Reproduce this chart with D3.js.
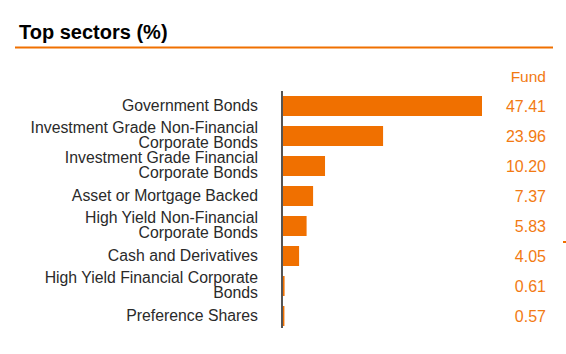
<!DOCTYPE html>
<html>
<head>
<meta charset="utf-8">
<script src="https://cdn.jsdelivr.net/npm/d3@7"></script>
<style>
  html, body { margin: 0; padding: 0; background: #fff; }
  svg { display: block; font-family: "Liberation Sans", Arial, sans-serif; }
</style>
</head>
<body>
<svg id="chart" width="566" height="354"></svg>
<script>
const title = "Top sectors (%)";
const seriesName = "Fund";
const categories = [
  "Government Bonds",
  "Investment Grade Non-Financial\nCorporate Bonds",
  "Investment Grade Financial\nCorporate Bonds",
  "Asset or Mortgage Backed",
  "High Yield Non-Financial\nCorporate Bonds",
  "Cash and Derivatives",
  "High Yield Financial Corporate\nBonds",
  "Preference Shares"
];
const values = [47.41, 23.96, 10.20, 7.37, 5.83, 4.05, 0.61, 0.57];

const orange = "#f07000";
const valueColor = "#f27a12";
const svg = d3.select("#chart");

// Title
svg.append("text")
  .attr("x", 19).attr("y", 39)
  .attr("font-size", 20).attr("font-weight", "bold")
  .attr("fill", "#000")
  .text(title);
svg.append("line")
  .attr("x1", 15).attr("x2", 553)
  .attr("y1", 47.5).attr("y2", 47.5)
  .attr("stroke", orange).attr("stroke-width", 2);

const y = d3.scaleBand()
  .domain(categories)
  .range([91, 331])
  .paddingInner(1/3)
  .paddingOuter(1/6);

const x0 = 282;
const x = d3.scaleLinear()
  .domain([0, d3.max(values)])
  .range([x0, 482]);

const data = categories.map((c, i) => ({ c, v: values[i] }));

// Bars
svg.append("g").selectAll("rect")
  .data(data).join("rect")
  .attr("x", x(0))
  .attr("y", d => y(d.c))
  .attr("width", d => Math.max(1, x(d.v) - x(0)))
  .attr("height", y.bandwidth())
  .attr("fill", orange);

// Axis line (category axis)
const yAxis = d3.axisLeft(y).tickSize(0).tickFormat("");
const ag = svg.append("g").attr("transform", `translate(${x0},0)`).call(yAxis);
ag.select(".domain").attr("stroke", "#555").attr("stroke-width", 2)
  .attr("d", "M0,91V328");

// Category labels
const lbl = svg.append("g").selectAll("text")
  .data(data).join("text")
  .attr("x", 258)
  .attr("text-anchor", "end")
  .attr("font-size", 15.8)
  .attr("fill", "#2a2a2a");
lbl.each(function(d) {
  const lines = d.c.split("\n");
  const cy = y(d.c) + y.bandwidth() / 2;
  const lh = 15;
  const start = cy - 1 - (lines.length - 1) * lh / 2;
  d3.select(this).selectAll("tspan")
    .data(lines).join("tspan")
    .attr("x", 258)
    .attr("y", (l, i) => start + i * lh)
    .attr("dy", "0.35em")
    .text(l => l);
});

// Series header
svg.append("text")
  .attr("x", 546).attr("y", 77)
  .attr("dy", "0.35em")
  .attr("text-anchor", "end")
  .attr("font-size", 15.5)
  .attr("fill", valueColor)
  .text(seriesName);

// Values
svg.append("g").selectAll("text")
  .data(data).join("text")
  .attr("x", 546)
  .attr("y", d => y(d.c) + y.bandwidth() / 2 + 0.5)
  .attr("dy", "0.35em")
  .attr("text-anchor", "end")
  .attr("font-size", 16)
  .attr("fill", valueColor)
  .text(d => d.v.toFixed(2));

// small stray mark at right edge
svg.append("rect")
  .attr("x", 563).attr("y", 241)
  .attr("width", 3).attr("height", 2)
  .attr("fill", orange);
</script>
</body>
</html>
